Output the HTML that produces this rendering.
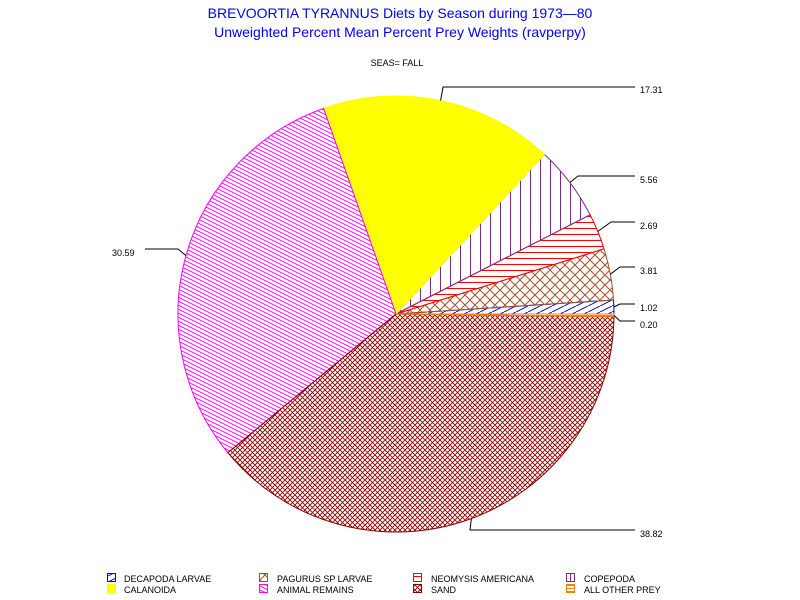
<!DOCTYPE html>
<html><head><meta charset="utf-8"><style>html,body{margin:0;padding:0;background:#fff}svg{display:block}</style></head>
<body>
<svg width="800" height="600" viewBox="0 0 800 600" xmlns="http://www.w3.org/2000/svg" font-family="Liberation Sans, sans-serif">
<defs>
<pattern id="dec" patternUnits="userSpaceOnUse" width="12" height="6"><path d="M0,6 L12,0" stroke="#0000ff" stroke-width="1"/></pattern>
<pattern id="pag" patternUnits="userSpaceOnUse" width="10" height="10"><path d="M0,0 L10,10 M10,0 L0,10" stroke="#a0522d" stroke-width="1"/></pattern>
<pattern id="neo" patternUnits="userSpaceOnUse" width="8" height="6"><path d="M0,0.5 H8" stroke="#ff0000" stroke-width="1"/></pattern>
<pattern id="cop" patternUnits="userSpaceOnUse" width="10" height="8"><path d="M0.5,0 V8" stroke="#7b2d8b" stroke-width="1"/></pattern>
<pattern id="ani" patternUnits="userSpaceOnUse" width="8" height="4"><path d="M0,0 L8,4 M-8,0 L8,8 M0,-4 L8,0" stroke="#ff00ff" stroke-width="1"/></pattern>
<pattern id="sand" patternUnits="userSpaceOnUse" width="5" height="5"><path d="M0,0 L5,5 M5,0 L0,5" stroke="#8b0000" stroke-width="0.9"/></pattern>
<pattern id="oth" patternUnits="userSpaceOnUse" width="6" height="3"><path d="M0,0.5 H6" stroke="#ff8000" stroke-width="1"/></pattern>
</defs>
<text x="400" y="18" text-anchor="middle" font-size="14" fill="#0000ff">BREVOORTIA TYRANNUS Diets by Season during 1973—80</text>
<text x="400" y="37" text-anchor="middle" font-size="14" fill="#0000ff">Unweighted Percent Mean Percent Prey  Weights (ravperpy)</text>
<text x="397" y="66" text-anchor="middle" font-size="9" fill="#000">SEAS= FALL</text>
<g stroke-width="1">
<path d="M396,314 L614,314 A218,218 0 0 0 613.55,300.04 Z" fill="url(#dec)" stroke="#0000ff"/>
<path d="M396,314 L613.55,300.04 A218,218 0 0 0 604.04,248.85 Z" fill="url(#pag)" stroke="#a0522d"/>
<path d="M396,314 L604.04,248.85 A218,218 0 0 0 590.11,214.78 Z" fill="url(#neo)" stroke="#ff0000"/>
<path d="M396,314 L590.11,214.78 A218,218 0 0 0 544.45,154.35 Z" fill="url(#cop)" stroke="#7b2d8b"/>
<path d="M396,314 L544.45,154.35 A218,218 0 0 0 323.57,108.38 Z" fill="#ffff00" stroke="#ffff00"/>
<path d="M396,314 L323.57,108.38 A218,218 0 0 0 227.84,452.74 Z" fill="url(#ani)" stroke="#ff00ff"/>
<path d="M396,314 L227.84,452.74 A218,218 0 0 0 613.98,316.74 Z" fill="url(#sand)" stroke="#8b0000"/>
<path d="M396,314 L613.98,316.74 A218,218 0 0 0 614,314 Z" fill="url(#oth)" stroke="#ff8000"/>
</g>
<g stroke="#000" fill="none" stroke-width="1">
<polyline points="440.6,100.6 443,87 635,87"/>
<polyline points="569.9,182.5 578,176 635,176"/>
<polyline points="597.8,231.5 611,222 635,222"/>
<polyline points="610.3,274.2 620,267 635,267"/>
<polyline points="613.9,307 620,304 635,304"/>
<polyline points="614,315.4 620,321 635,321"/>
<polyline points="471.4,518.6 470,530 635,530"/>
<polyline points="186,255.6 178,249 145,249"/>
</g>
<g font-size="9" fill="#000">
<text x="640" y="93">17.31</text>
<text x="640" y="183">5.56</text>
<text x="640" y="229">2.69</text>
<text x="640" y="274">3.81</text>
<text x="640" y="311">1.02</text>
<text x="640" y="328">0.20</text>
<text x="640" y="537">38.82</text>
<text x="112" y="256">30.59</text>
</g>
<g font-size="9" fill="#000" stroke-width="1">
<rect x="107.5" y="573.5" width="8" height="8" fill="url(#dec)" stroke="#0000ff"/>
<text x="124" y="582">DECAPODA LARVAE</text>
<rect x="259.5" y="573.5" width="8" height="8" fill="url(#pag)" stroke="#a0522d"/>
<text x="277" y="582">PAGURUS SP LARVAE</text>
<rect x="413.5" y="573.5" width="8" height="8" fill="url(#neo)" stroke="#ff0000"/>
<text x="431" y="582">NEOMYSIS AMERICANA</text>
<rect x="566.5" y="573.5" width="8" height="8" fill="url(#cop)" stroke="#7b2d8b"/>
<text x="584" y="582">COPEPODA</text>
<rect x="107.5" y="584.5" width="8" height="8" fill="#ffff00" stroke="#ffff00"/>
<text x="124" y="593">CALANOIDA</text>
<rect x="259.5" y="584.5" width="8" height="8" fill="url(#ani)" stroke="#ff00ff"/>
<text x="277" y="593">ANIMAL REMAINS</text>
<rect x="413.5" y="584.5" width="8" height="8" fill="url(#sand)" stroke="#8b0000"/>
<text x="431" y="593">SAND</text>
<rect x="566.5" y="584.5" width="8" height="8" fill="url(#oth)" stroke="#ff8000"/>
<text x="584" y="593">ALL OTHER PREY</text>
</g>
</svg>
</body></html>
